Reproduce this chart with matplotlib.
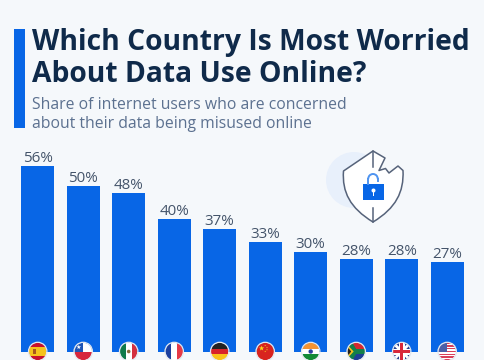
import numpy as np
import matplotlib.pyplot as plt
from matplotlib.patches import Rectangle, Circle, Polygon, Arc, PathPatch
from matplotlib.path import Path

# chart values
countries = ['Spain', 'Chile', 'Mexico', 'France', 'Germany',
             'China', 'India', 'South Africa', 'UK', 'USA']
shares = [56, 50, 48, 40, 37, 33, 30, 28, 28, 27]

title_lines = ['Which Country Is Most Worried', 'About Data Use Online?']
subtitle_lines = ['Share of internet users who are concerned',
                  'about their data being misused online']

BG = '#f5f8fb'
BLUE = '#0866e6'
NAVY = '#0f2a4a'
GREY = '#5c7190'
LABEL = '#44546a'

W, H = 485, 360
BASE_Y = 352
PX_PER_UNIT = 3.32
FIRST_X = 37.7
STEP_X = 45.5

plt.rcParams['font.family'] = ['Open Sans', 'DejaVu Sans']

fig = plt.figure(figsize=(W / 100, H / 100), dpi=100, facecolor=BG)

# bars: axes spans the whole figure, limits put the bars where they belong
ax = fig.add_axes([0, 0, 1, 1])
ax.set_facecolor('none')
ax.set_xlim(-FIRST_X / STEP_X, (W - FIRST_X) / STEP_X)
ax.set_ylim(-(H - BASE_Y) / PX_PER_UNIT, BASE_Y / PX_PER_UNIT)
ax.axis('off')
x = np.arange(len(countries))
ax.bar(x, shares, width=33 / STEP_X, color=BLUE)
for xi, val in zip(x, shares):
    ax.annotate(f'{val}%', (xi, val), xytext=(0, 0), textcoords='offset points',
                ha='center', va='bottom', fontsize=10.9, color=LABEL)

# overlay in pixel coordinates for header, icon and flags
ov = fig.add_axes([0, 0, 1, 1], zorder=3)
ov.set_xlim(0, W)
ov.set_ylim(H, 0)
ov.set_facecolor('none')
ov.axis('off')

ov.add_patch(Rectangle((14.5, 29), 11, 99, color=BLUE, lw=0))
for text, y in zip(title_lines, [50, 82]):
    ov.text(32.5, y, text, fontsize=20.3, fontweight='bold', color=NAVY,
            va='baseline', ha='left')
for text, y in zip(subtitle_lines, [109, 128]):
    ov.text(32.5, y, text, fontsize=11.35, color=GREY, va='baseline', ha='left')

# shield icon
ov.add_patch(Circle((354, 180), 28, color='#e8f0fb', lw=0))
shield_pts = [(373, 151), (385, 158), (379, 170.5), (385.5, 168.5), (389, 173), (398, 166),
              (403, 170.5),
              (404, 192), (396, 208), (373, 222),
              (350, 208), (342, 192), (343.5, 171),
              (373, 151)]
shield_codes = [Path.MOVETO] + [Path.LINETO] * 6 + [Path.CURVE4] * 6 + [Path.LINETO]
ov.add_patch(PathPatch(Path(shield_pts, shield_codes), fc='white', ec='#56637a',
                       lw=1.1, joinstyle='round'))
ov.plot([373, 373], [151, 166.5], color='#56637a', lw=1.1)
ov.plot([373, 373], [208, 222], color='#56637a', lw=1.1)
ov.add_patch(Arc((373, 179), 9.6, 10, theta1=180, theta2=360, ec='#4f94f0', lw=1.4))
ov.plot([368.2, 368.2], [179, 184], color='#4f94f0', lw=1.4)
ov.plot([377.8, 377.8], [179, 181], color='#4f94f0', lw=1.4)
ov.add_patch(Rectangle((363.3, 184.2), 21, 15.8, color=BLUE, lw=0))
ov.add_patch(Circle((373.5, 190.5), 2, color='white', lw=0))
ov.add_patch(Rectangle((372.8, 190.5), 1.4, 5, color='white', lw=0))


def rect(clip, x0, y0, w, h, c, z=5):
    r = Rectangle((x0, y0), w, h, color=c, lw=0, zorder=z)
    ov.add_patch(r)
    r.set_clip_path(clip)


def poly(clip, pts, c, z=5):
    p = Polygon(pts, closed=True, color=c, lw=0, zorder=z)
    ov.add_patch(p)
    p.set_clip_path(clip)


def star(cx, cy, r):
    ang = np.deg2rad(np.arange(0, 360, 36) - 90)
    rad = np.tile([r, r * 0.4], 5)
    return np.column_stack([cx + rad * np.cos(ang), cy + rad * np.sin(ang)])


def draw_flag(name, cx, cy=351.5, r=8.8):
    clip = Circle((cx, cy), r, transform=ov.transData)
    l, t, d = cx - r, cy - r, 2 * r
    if name == 'Spain':
        rect(clip, l, t, d, d, '#c8102e')
        rect(clip, l, cy - r / 2, d, r, '#f6c21c')
        rect(clip, cx - 5, cy - 2.5, 3.5, 5, '#a8561c', 6)
    elif name == 'Chile':
        rect(clip, l, t, d, r, 'white')
        rect(clip, l, cy, d, r, '#d7263d')
        rect(clip, l, t, r, r, '#1f55b5', 6)
        poly(clip, star(cx - r / 2, cy - r / 2, 2.4), 'white', 7)
    elif name == 'Mexico':
        rect(clip, l, t, d / 3, d, '#0f7a4a')
        rect(clip, l + d / 3, t, d / 3, d, 'white')
        rect(clip, l + 2 * d / 3, t, d / 3, d, '#d32f3f')
        c = Circle((cx, cy), 1.8, color='#8a6a3a', lw=0, zorder=6)
        ov.add_patch(c)
    elif name == 'France':
        rect(clip, l, t, d / 3, d, '#1c3f9e')
        rect(clip, l + d / 3, t, d / 3, d, 'white')
        rect(clip, l + 2 * d / 3, t, d / 3, d, '#e63946')
    elif name == 'Germany':
        rect(clip, l, t, d, d / 3, '#222222')
        rect(clip, l, t + d / 3, d, d / 3, '#d8232a')
        rect(clip, l, t + 2 * d / 3, d, d / 3, '#f9c31a')
    elif name == 'China':
        rect(clip, l, t, d, d, '#d8231f')
        poly(clip, star(cx - 3.6, cy - 3.2, 2.8), '#f9d71c', 6)
        for dx, dy in [(0, -6), (1.8, -4), (1.8, -1.8), (0, 0)]:
            poly(clip, star(cx + dx, cy + dy, 0.9), '#f9d71c', 6)
    elif name == 'India':
        rect(clip, l, t, d, d / 3, '#f59331')
        rect(clip, l, t + d / 3, d, d / 3, 'white')
        rect(clip, l, t + 2 * d / 3, d, d / 3, '#138a36')
        ov.add_patch(Circle((cx, cy), 2.2, color='#2b3f9e', lw=0, zorder=6))
    elif name == 'South Africa':
        rect(clip, l, t, d, r, '#d7282f')
        rect(clip, l, cy, d, r, '#1d3f95')
        poly(clip, [(l, t), (l + 5, t), (cx, cy - 2.5), (cx + r, cy - 2.5), (cx + r, cy + 2.5),
                    (cx, cy + 2.5), (l + 5, t + d), (l, t + d)], '#12804a', 6)
        poly(clip, [(l, t + 2), (cx - 2.5, cy), (l, t + d - 2)], '#f6c21c', 7)
        poly(clip, [(l, t + 4), (cx - 5, cy), (l, t + d - 4)], '#222222', 8)
    elif name == 'UK':
        rect(clip, l, t, d, d, '#27408f')
        poly(clip, [(l - 1, t + 1), (l + 1, t - 1), (l + d + 1, t + d - 1), (l + d - 1, t + d + 1)], 'white', 6)
        poly(clip, [(l - 1, t + d - 1), (l + 1, t + d + 1), (l + d + 1, t + 1), (l + d - 1, t - 1)], 'white', 6)
        rect(clip, cx - 3, t, 6, d, 'white', 7)
        rect(clip, l, cy - 3, d, 6, 'white', 7)
        rect(clip, cx - 1.6, t, 3.2, d, '#d8283a', 8)
        rect(clip, l, cy - 1.6, d, 3.2, '#d8283a', 8)
    elif name == 'USA':
        rect(clip, l, t, d, d, 'white')
        for i in range(0, 13, 2):
            rect(clip, l, t + i * d / 13, d, d / 13, '#d9405a', 6)
        rect(clip, l, t, r, r + 0.5, '#4a5fa8', 7)
    ov.add_patch(Circle((cx, cy), r + 0.4, fc='none', ec='#e4e8ee', lw=0.9, zorder=9))


for i, name in enumerate(countries):
    draw_flag(name, FIRST_X + STEP_X * i)

fig.savefig('out.png', dpi=100, facecolor=BG)
